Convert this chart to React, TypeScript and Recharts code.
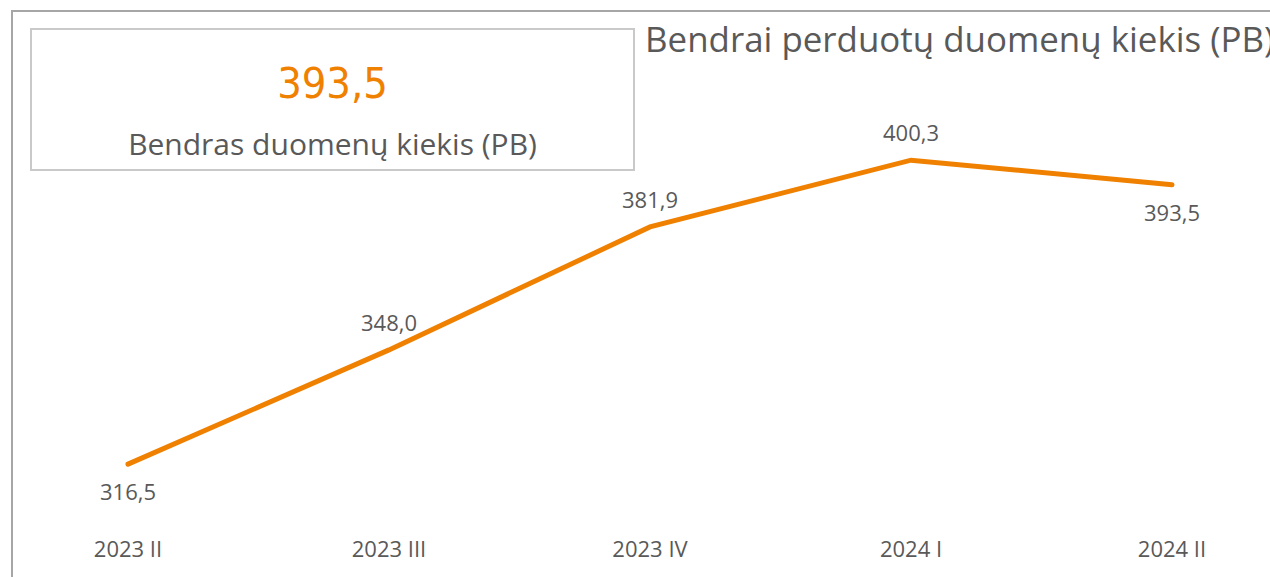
import React from 'react';
import { LineChart, Line, XAxis, YAxis, LabelList } from 'recharts';

const categories = ['2023 II', '2023 III', '2023 IV', '2024 I', '2024 II'];
const values = [316.5, 348.0, 381.9, 400.3, 393.5];
const yDomain = [300, 410];
const kpiValue = 393.5;
const kpiLabel = 'Bendras duomenų kiekis (PB)';
const title = 'Bendrai perduotų duomenų kiekis (PB)';

const data = categories.map((c, i) => ({ name: c, value: values[i] }));

const ORANGE = '#F08000';
const GRAY = '#595959';
const FONT = '"Segoe UI", "Open Sans", "Noto Sans", sans-serif';

const fmt = (v: number) => v.toFixed(1).replace('.', ',');

const renderLabel = (props: any) => {
  const { x, y, value, index } = props;
  const below = index === 0 || index === categories.length - 1;
  const cy = below ? y + 28 : y - 27;
  return (
    <text x={x} y={cy} dy="0.35em" textAnchor="middle" fill={GRAY} fontSize={22} fontFamily={FONT}>
      {fmt(Number(value))}
    </text>
  );
};

export default function App() {
  return (
    <div style={{ position: 'absolute', left: 0, top: 0, width: 1270, height: 577, overflow: 'hidden', background: '#fff', fontFamily: FONT }}>
      <div style={{ position: 'absolute', left: 11, top: 10, width: 1400, height: 700, border: '2px solid #A6A6A6' }} />
      <div style={{ position: 'absolute', left: 30, top: 28, width: 601, height: 139, border: '2px solid #C9C9C9', boxSizing: 'content-box' }}>
        <div style={{ position: 'absolute', left: 0, right: 0, top: 23, textAlign: 'center', color: ORANGE, fontSize: 43, lineHeight: '60px', fontFamily: '"DejaVu Sans Condensed", "Liberation Sans Narrow", sans-serif' }}>
          {fmt(kpiValue)}
        </div>
        <div style={{ position: 'absolute', left: 0, right: 0, top: 96, textAlign: 'center', color: GRAY, fontSize: 30, lineHeight: '36px' }}>
          {kpiLabel}
        </div>
      </div>
      <div style={{ position: 'absolute', left: 645, top: 17, whiteSpace: 'nowrap', color: GRAY, fontSize: 34.9, lineHeight: '44px' }}>
        {title}
      </div>
      <div style={{ position: 'absolute', left: 0, top: 0 }}>
        <LineChart width={1270} height={577} data={data} margin={{ top: 125, right: 98, bottom: 23, left: 128 }}>
          <XAxis
            dataKey="name"
            axisLine={false}
            tickLine={false}
            tickSize={0}
            tickMargin={17}
            height={30}
            interval={0}
            tick={{ fill: GRAY, fontSize: 22, fontFamily: FONT }}
          />
          <YAxis hide domain={yDomain} />
          <Line
            type="linear"
            dataKey="value"
            stroke={ORANGE}
            strokeWidth={5}
            strokeLinecap="round"
            dot={false}
            activeDot={false}
            isAnimationActive={false}
          >
            <LabelList dataKey="value" content={renderLabel} />
          </Line>
        </LineChart>
      </div>
    </div>
  );
}
